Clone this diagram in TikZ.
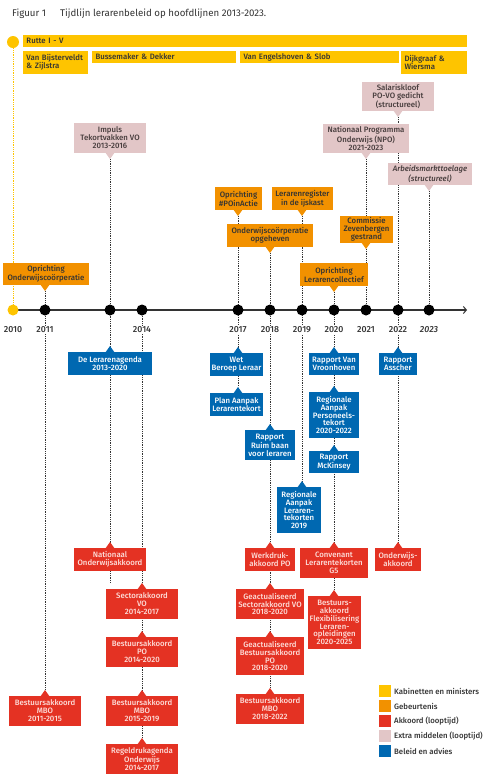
\documentclass[tikz,border=0pt]{standalone}
\usepackage{fontspec}
\setmainfont{Fira Sans}
\newfontfamily\medf{Fira Sans Medium}
\usetikzlibrary{arrows.meta}
\definecolor{cyel}{RGB}{254,196,0}
\definecolor{cor}{RGB}{242,145,0}
\definecolor{cred}{RGB}{228,50,35}
\definecolor{cpink}{RGB}{226,198,199}
\definecolor{cblue}{RGB}{0,104,177}
\definecolor{cdark}{RGB}{51,51,51}
\definecolor{credtext}{RGB}{253,222,218}
\definecolor{cpinktext}{RGB}{70,60,60}
\pgfdeclarelayer{back}\pgfdeclarelayer{bg}\pgfsetlayers{back,bg,main}
\tikzset{
 box/.style={inner sep=0pt, align=center, font=\medf\fontsize{7.8}{7.9}\selectfont},
 pinkb/.style={box,text=cpinktext},
 orb/.style={box,text=cdark},
 blb/.style={box,text=white},
 redb/.style={box,text=credtext},
 yelb/.style={inner sep=0pt, align=left, text=cdark, font=\medf\fontsize{7.8}{8.2}\selectfont},
 conn/.style={draw=cdark, line width=0.9pt, dash pattern=on 0.9pt off 0.9pt},
 yconn/.style={conn, draw=cyel},
 tdot/.style={circle, fill=black, minimum size=11pt, inner sep=0pt},
 yr/.style={fill=white, inner sep=1pt, font=\medf\fontsize{8.8}{9}\selectfont, text=cdark},
 legt/.style={anchor=west, inner sep=0pt, font=\medf\fontsize{7.8}{8}\selectfont, text=cdark},
}
\newcommand\bx[7]{%
 \pgfmathsetmacro\bw{#4-#3}\pgfmathsetmacro\bh{#6-#5}%
 \node[#1,minimum width=\bw pt,minimum height=\bh pt] (#2) at ({(#3+#4)/2},{(#5+#6)/2}) {#7};}
\newcommand\dbox[9]{% style,color,name,x0,x1,y0,y1,px,text
 \bx{#1,fill=#2}{#3}{#4}{#5}{#6}{#7}{#9}%
 \fill[#2] (#8-4.5,#7-0.3) -- (#8+4.5,#7-0.3) -- (#8,#7+6) -- cycle;
 \coordinate (#3-t) at (#8,#7+6);}
\newcommand\ubox[9]{% style,color,name,x0,x1,y0,y1,px,text
 \bx{#1,fill=#2}{#3}{#4}{#5}{#6}{#7}{#9}%
 \fill[#2] (#8-4.5,#6+0.3) -- (#8+4.5,#6+0.3) -- (#8,#6-6) -- cycle;
 \coordinate (#3-t) at (#8,#6-6);}
\newcommand\ybox[6]{%
 \pgfmathsetmacro\bw{#3-#2}\pgfmathsetmacro\bh{#5-#4}\pgfmathsetmacro\tw{#3-#2-7}%
 \node[yelb,fill=cyel,minimum width=\bw pt,minimum height=\bh pt,text width=\tw pt] (#1) at ({(#2+#3)/2},{(#4+#5)/2}) {#6};}
\begin{document}
\begin{tikzpicture}[x=1pt,y=-1pt]
\begin{pgfonlayer}{back}
\fill[white] (0,0) rectangle (500,782);
\end{pgfonlayer}
\useasboundingbox (0,0) rectangle (500,782);

% title
\node[anchor=west, inner sep=0pt, font=\fontsize{9.7}{11}\selectfont, text=cdark] (fig) at (12,14) {Figuur 1};
\node[anchor=west, inner sep=0pt, font=\fontsize{9.7}{11}\selectfont, text=cdark] (ttl) at (60,14) {Tijdlijn lerarenbeleid op hoofdlijnen 2013-2023.};

% cabinets
\node[circle, fill=cyel, minimum size=12pt, inner sep=0pt] (rdot) at (13,42) {};
\ybox{rut}{23}{467}{35}{47}{Rutte I - V}
\ybox{vbz}{23}{88}{51}{74}{Van Bijsterveldt\\\& Zijlstra}
\ybox{bde}{92}{236}{51}{63}{Bussemaker \& Dekker}
\ybox{ves}{240}{399}{51}{63}{Van Engelshoven \& Slob}
\ybox{dwi}{401}{467}{51}{74}{Dijkgraaf \&\\Wiersma}

% extra middelen
\dbox{pinkb}{cpink}{sal}{362}{434}{82}{111}{398}{Salariskloof\\PO-VO gedicht\\(structureel)}
\dbox{pinkb}{cpink}{imp}{74}{146}{123}{153}{110}{Impuls\\Tekortvakken VO\\2013-2016}
\dbox{pinkb}{cpink}{npo}{323}{409}{124}{153}{366}{Nationaal Programma\\Onderwijs (NPO)\\2021-2023}
\dbox{pinkb}{cpink}{arb}{388}{472}{163}{185}{429}{\itshape Arbeidsmarkttoelage\\\itshape (structureel)}

% gebeurtenis
\dbox{orb}{cor}{poa}{215}{262}{187}{210}{238}{Oprichting\\\#POinActie}
\dbox{orb}{cor}{ler}{272}{333}{187}{210}{302}{Lerarenregister\\in de ijskast}
\dbox{orb}{cor}{opg}{227}{313}{224}{247}{270}{Onderwijscoörperatie\\opgeheven}
\dbox{orb}{cor}{zev}{340}{393}{216}{243}{366}{Commissie\\Zevenbergen\\gestrand}
\dbox{orb}{cor}{owc}{3}{89}{263}{285}{45}{Oprichting\\Onderwijscoörperatie}
\dbox{orb}{cor}{lco}{300}{368}{263}{286}{334}{Oprichting\\Lerarencollectief}

% timeline
\node[circle, fill=cyel, minimum size=11pt, inner sep=0pt] (d2010) at (13,310) {};
\node[tdot] (d2011) at (45,310) {};
\node[tdot] (d2013) at (110,310) {};
\node[tdot] (d2014) at (142,310) {};
\node[tdot] (d2017) at (238,310) {};
\node[tdot] (d2018) at (270,310) {};
\node[tdot] (d2019) at (302,310) {};
\node[tdot] (d2020) at (334,310) {};
\node[tdot] (d2021) at (366,310) {};
\node[tdot] (d2022) at (398,310) {};
\node[tdot] (d2023) at (429,310) {};
\coordinate (tend) at (467,310);
\node[yr] (y2010) at (13,330) {2010};
\node[yr] (y2011) at (45,330) {2011};
\node[yr] (y2014) at (142,330) {2014};
\node[yr] (y2017) at (238,330) {2017};
\node[yr] (y2018) at (270,330) {2018};
\node[yr] (y2019) at (302,330) {2019};
\node[yr] (y2020) at (334,330) {2020};
\node[yr] (y2021) at (366,330) {2021};
\node[yr] (y2022) at (398,330) {2022};
\node[yr] (y2023) at (429,330) {\itshape 2023};

% beleid en advies
\ubox{blb}{cblue}{agd}{68}{152}{352}{375}{110}{De Lerarenagenda\\2013-2020}
\ubox{blb}{cblue}{wet}{210}{263}{353}{376}{238}{Wet\\Beroep Leraar}
\ubox{blb}{cblue}{pla}{210}{263}{393}{416}{238}{Plan Aanpak\\Lerarentekort}
\ubox{blb}{cblue}{rui}{245}{295}{430}{460}{270}{Rapport\\Ruim baan\\voor leraren}
\ubox{blb}{cblue}{r19}{277}{321}{487}{533}{302}{Regionale\\Aanpak\\Leraren-\\tekorten\\2019}
\ubox{blb}{cblue}{vro}{309}{359}{353}{375}{334}{Rapport Van\\Vroonhoven}
\ubox{blb}{cblue}{rap}{309}{359}{392}{438}{334}{Regionale\\Aanpak\\Personeels-\\tekort\\2020-2022}
\ubox{blb}{cblue}{mck}{309}{359}{451}{473}{334}{Rapport\\McKinsey}
\ubox{blb}{cblue}{ass}{379}{417}{353}{375}{398}{Rapport\\Asscher}

% akkoorden
\ubox{redb}{cred}{noa}{74}{146}{548}{571}{110}{Nationaal\\Onderwijsakkoord}
\ubox{redb}{cred}{svo}{106}{178}{589}{619}{142}{Sectorakkoord\\VO\\2014-2017}
\ubox{redb}{cred}{bpo}{106}{178}{637}{667}{142}{Bestuursakkoord\\PO\\2014-2020}
\ubox{redb}{cred}{bm15}{106}{178}{696}{726}{142}{Bestuursakkoord\\MBO\\2015-2019}
\ubox{redb}{cred}{rga}{106}{178}{744}{774}{142}{Regeldrukagenda\\Onderwijs\\2014-2017}
\ubox{redb}{cred}{bm11}{9}{81}{696}{726}{45}{Bestuursakkoord\\MBO\\2011-2015}
\ubox{redb}{cred}{wdk}{245}{295}{548}{571}{270}{Werkdruk-\\akkoord PO}
\ubox{redb}{cred}{gsv}{236}{304}{589}{619}{270}{Geactualiseerd\\Sectorakkoord VO\\2018-2020}
\ubox{redb}{cred}{gbp}{236}{304}{637}{675}{270}{Geactualiseerd\\Bestuursakkoord\\PO\\2018-2020}
\ubox{redb}{cred}{bm18}{236}{304}{694}{724}{270}{Bestuursakkoord\\MBO\\2018-2022}
\ubox{redb}{cred}{cov}{300}{368}{548}{578}{334}{Convenant\\Lerarentekorten\\G5}
\ubox{redb}{cred}{flx}{308}{361}{596}{649}{334}{Bestuurs-\\akkoord\\Flexibilisering\\Leraren-\\opleidingen\\2020-2025}
\ubox{redb}{cred}{owa}{375}{421}{548}{571}{398}{Onderwijs-\\akkoord}
\coordinate (stub) at (110,583);

% connectors
\begin{pgfonlayer}{bg}
\draw[yconn] (rdot) -- (d2010);
\draw[cdark, line width=1.2pt, -{Straight Barb[length=3pt,width=7pt,line width=1pt]}] (d2010.center) -- (tend);
\draw[conn] (owc-t) -- (bm11-t);
\draw[conn] (imp-t) -- (stub);
\draw[conn] (d2014) -- (rga-t);
\draw[conn] (poa-t) -- (pla-t);
\draw[conn] (opg-t) -- (bm18-t);
\draw[conn] (ler-t) -- (r19-t);
\draw[conn] (lco-t) -- (flx-t);
\draw[conn] (npo-t) -- (d2021);
\draw[conn] (sal-t) -- (owa-t);
\draw[conn] (arb-t) -- (d2023);
\end{pgfonlayer}

% legend
\foreach \c/\t [count=\i] in {cyel/Kabinetten en ministers, cor/Gebeurtenis, cred/Akkoord (looptijd), cpink/Extra middelen (looptijd), cblue/Beleid en advies}{
 \node[fill=\c, minimum size=12pt, inner sep=0pt] (lsq\i) at (385,{676+15*\i}) {};
 \node[legt] (lt\i) at (394,{676+15*\i}) {\t};
}
\end{tikzpicture}
\end{document}
